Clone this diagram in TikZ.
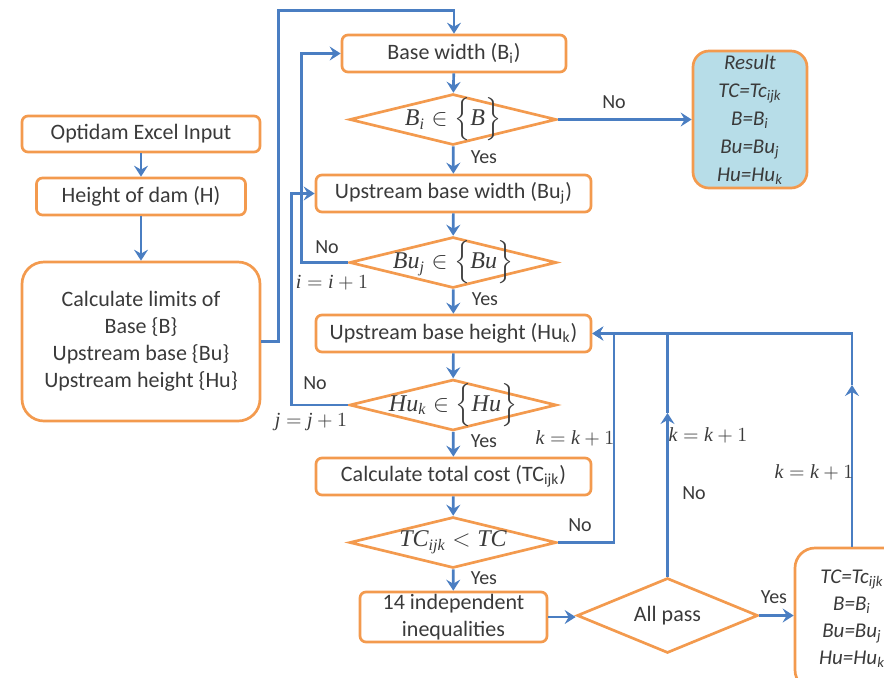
\documentclass[tikz,border=0pt]{standalone}
\usepackage{amsmath}
\usepackage{fontspec}
\setmainfont{Carlito}
\newfontfamily\tms{Liberation Serif}
\newcommand\mi[1]{\text{\tms\itshape #1}}
\usetikzlibrary{shapes.geometric,arrows.meta,calc}
\definecolor{bord}{HTML}{F39A4E}
\definecolor{lnk}{HTML}{4A7EC2}
\definecolor{resfill}{HTML}{B7DDE8}
\definecolor{txt}{HTML}{3A3A3A}
\begin{document}
\begin{tikzpicture}[x=0.5pt,y=-0.5pt,
  font=\fontsize{11}{13.5}\selectfont, text=txt,
  box/.style={draw=bord, line width=1.35pt, rounded corners=3pt, inner sep=0pt, align=center},
  dia/.style={draw=bord, line width=1.35pt, diamond, aspect=4, inner sep=0pt, minimum width=103.5pt, minimum height=25.5pt},
  dtext/.style={font=\fontsize{12}{14}\selectfont, inner sep=0pt},
  conn/.style={draw=lnk, line width=1.35pt, -{Stealth[length=5.5pt,width=7pt,inset=2pt]}},
  ln/.style={draw=lnk, line width=1.35pt},
  lab/.style={font=\fontsize{10}{12}\selectfont},
  mlab/.style={font=\fontsize{10}{12}\selectfont}]
\useasboundingbox (0,0) rectangle (884,677);
\clip (0,0) rectangle (884,677);

% left column
\node[box, minimum width=119pt, minimum height=18pt] (inp) at (141,134) {Optidam Excel Input};
\node[box, minimum width=104.5pt, minimum height=18.5pt] (hgt) at (141,196.5) {Height of dam (H)};
\node[box, rounded corners=11pt, minimum width=119pt, minimum height=79.5pt] (calc) at (141,341.5)
  {Calculate limits of\\Base \{B\}\\Upstream base \{Bu\}\\Upstream height \{Hu\}};

% main column
\node[box, minimum width=112pt, minimum height=18.5pt] (bw) at (454,53.5) {Base width (B\textsubscript{i})};
\node[dia] (d1) at (453,119.5) {};
\node[dtext] (t1) at (d1) {$\mi{B}_{\mi{i}}\in\Bigl\{\mi{B}\Bigr\}$};
\node[box, minimum width=137.5pt, minimum height=18.5pt] (ubw) at (453.5,193.5) {Upstream base width (Bu\textsubscript{j})};
\node[dia] (d2) at (453,262.5) {};
\node[dtext] (t2) at (d2) {$\mi{Bu}_{\mi{j}}\in\Bigl\{\mi{Bu}\Bigr\}$};
\node[box, minimum width=137.5pt, minimum height=18.5pt] (ubh) at (453.5,333.5) {Upstream base height (Hu\textsubscript{k})};
\node[dia] (d3) at (453,405) {};
\node[dtext] (t3) at (d3) {$\mi{Hu}_{\mi{k}}\in\Bigl\{\mi{Hu}\Bigr\}$};
\node[box, minimum width=137.5pt, minimum height=18.5pt] (tc) at (453.5,476.5) {Calculate total cost (TC\textsubscript{ijk})};
\node[dia] (d4) at (453,542.5) {};
\node[dtext] (t4) at (d4) {$\mi{TC}_{\mi{ijk}}<\mi{TC}$};
\node[box, minimum width=93.5pt, minimum height=25pt] (ineq) at (453.5,617) {14 independent\\inequalities};
\node[dia, minimum width=90.5pt, minimum height=37.5pt, aspect=2.4] (ap) at (667.5,615.5) {All pass};

% result boxes
\node[box, fill=resfill, rounded corners=8pt, minimum width=57pt, minimum height=68.5pt,
  font=\fontsize{10.5}{14}\selectfont\itshape] (res) at (750,119.5)
  {Result\\TC=Tc\textsubscript{ijk}\\B=B\textsubscript{i}\\Bu=Bu\textsubscript{j}\\Hu=Hu\textsubscript{k}};
\node[box, rounded corners=10pt, minimum width=57pt, minimum height=71pt,
  font=\fontsize{10.5}{13.5}\selectfont\itshape] (out) at (852,619)
  {TC=Tc\textsubscript{ijk}\\B=B\textsubscript{i}\\Bu=Bu\textsubscript{j}\\Hu=Hu\textsubscript{k}};

% connectors
\draw[conn] (inp) -- (hgt);
\draw[conn] (hgt) -- (calc);
\draw[conn] (calc.east) -- ++(17,0) |- ($(bw.north)+(0,-23)$) -- (bw.north);
\draw[conn] (bw) -- (d1);
\draw[conn] (d1) -- (ubw);
\draw[conn] (d1.east) -- (res.west);
\draw[conn] (ubw) -- (d2);
\draw[conn] (d2.west) -- ++(-47,0) |- (bw.west);
\draw[conn] (d2) -- (ubh);
\draw[conn] (ubh) -- (d3);
\draw[conn] (d3.west) -- ++(-57,0) |- (ubw.west);
\draw[conn] (d3) -- (tc);
\draw[conn] (tc) -- (d4);
\draw[conn] (d4) -- (ineq);
\draw[conn] (d4.east) -- ++(56,0) |- (ubh.east);
\draw[conn] (ineq.east) -- (ineq.east -| ap.west);
\draw[conn] (ap.east) -- (ap.east -| out.west);
\coordinate (m1) at (667.5,413);
\draw[conn] (ap.north) -- (m1);
\draw[ln] (m1) -- (ap.north |- ubh.east);
\coordinate (m2) at (852,385);
\draw[conn] (out.north) -- (m2);
\draw[conn] (m2) |- (ubh.east);

% labels
\node[lab] (y1) at (484,157) {Yes};
\node[lab] (y2) at (485,299) {Yes};
\node[lab] (y3) at (484,441) {Yes};
\node[lab] (y4) at (484,578) {Yes};
\node[lab] (y5) at (774,597) {Yes};
\node[lab] (n1) at (614,102) {No};
\node[lab] (n2) at (327,247) {No};
\node[lab] (n3) at (315,383) {No};
\node[lab] (n4) at (580,525) {No};
\node[lab] (n5) at (694,493) {No};
\node[mlab] (i1) at (332,283) {$\mi{i}=\mi{i}+1$};
\node[mlab] (j1) at (311,422) {$\mi{j}=\mi{j}+1$};
\node[mlab] (k1) at (575,438) {$\mi{k}=\mi{k}+1$};
\node[mlab] (k2) at (708,435) {$\mi{k}=\mi{k}+1$};
\node[mlab] (k3) at (814,472) {$\mi{k}=\mi{k}+1$};
\end{tikzpicture}
\end{document}
